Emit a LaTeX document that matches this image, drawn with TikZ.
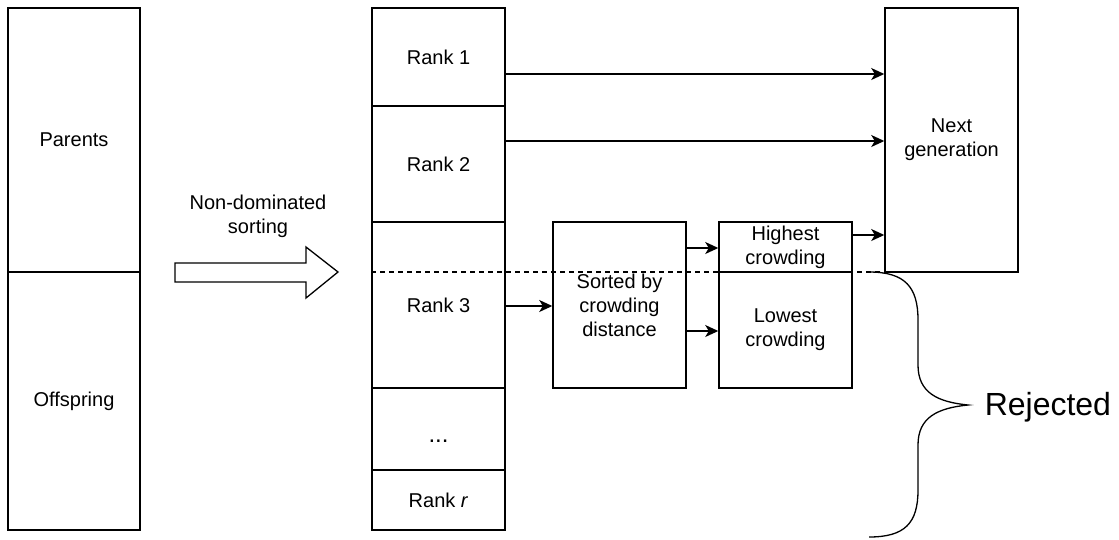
\documentclass[tikz,border=0pt]{standalone}
\usepackage{fontspec}
\setmainfont{Liberation Sans}
\usetikzlibrary{arrows.meta}
\begin{document}
\begin{tikzpicture}[x=1pt,y=-1pt,line width=1.5pt,
  box/.style={draw,rectangle,inner sep=0pt,minimum width=133pt,align=center,font=\fontsize{20}{24}\selectfont},
  arr/.style={-{Stealth[length=13pt,width=12pt,inset=3.5pt]}},
  lbl/.style={align=center,font=\fontsize{20}{24}\selectfont}]
\useasboundingbox (0,0) rectangle (1119,539);
% left column
\node[box,minimum width=132pt,minimum height=264pt] (parents) at (74,140) {Parents};
\node[box,minimum width=132pt,minimum height=258pt] (offspring) at (74,401) {Offspring};
% block arrow
\draw[line width=1.3pt] (175,263) -- (306,263) -- (306,247) -- (338,272) -- (306,298) -- (306,282) -- (175,282) -- cycle;
\node[lbl] (nds) at (258,216) {Non-dominated\\sorting};
% rank column
\node[box,minimum height=98pt] (rank1) at (438.5,57) {Rank 1};
\node[box,minimum height=116pt] (rank2) at (438.5,164) {Rank 2};
\node[box,minimum height=166pt] (rank3) at (438.5,305) {Rank 3};
\node[box,minimum height=82pt] (dots) at (438.5,429) {\raisebox{-13.5pt}[0pt][0pt]{\fontsize{24}{28}\selectfont ...}};
\node[box,minimum height=60pt] (rankr) at (438.5,500) {Rank \textit{r}};
% crowding
\node[box,minimum height=166pt] (sorted) at (619.5,305) {Sorted by\\crowding\\distance};
\node[box,minimum height=50pt] (high) at (785.5,247) {Highest\\crowding};
\node[box,minimum height=116pt] (low) at (785.5,330) {Lowest\\crowding};
\node[box,minimum height=264pt] (next) at (951.5,140) {Next\\generation};
% dashed cut line
\coordinate (cutR) at (885,272);
\draw[dashed,dash pattern=on 5pt off 4pt,line width=1.3pt] (rank3.west |- cutR) -- (cutR);
% arrows
\draw[arr] (rank1.east |- 0,74) -- (next.west |- 0,74);
\draw[arr] (rank2.east |- 0,141) -- (next.west |- 0,141);
\draw[arr] (rank3.east |- 0,306) -- (sorted.west |- 0,306);
\draw[arr] (sorted.east |- 0,248) -- (high.west |- 0,248);
\draw[arr] (sorted.east |- 0,331) -- (low.west |- 0,331);
\draw[arr] (high.east |- 0,235) -- (next.west |- 0,235);
% brace
\draw[line width=1.3pt] (869,272) .. controls (905,272) and (918,287) .. (918,320)
  -- (918,365) .. controls (918,393) and (938,402) .. (968,405)
  .. controls (938,408) and (918,417) .. (918,445)
  -- (918,490) .. controls (918,523) and (905,537) .. (869,537);
\node[anchor=west,inner sep=0pt,font=\fontsize{32}{36}\selectfont] (rej) at (984,407) {Rejected};
\end{tikzpicture}
\end{document}
